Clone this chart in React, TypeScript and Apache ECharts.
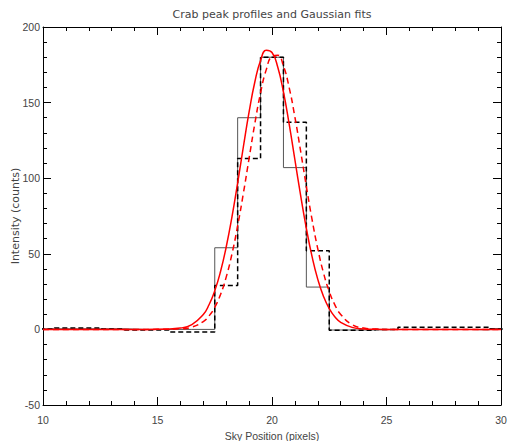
import React, { useEffect, useRef } from "react";
import * as echarts from "echarts";

// Histogram bins (centres, pixels) and counts
const binCenters = [10, 11, 12, 13, 14, 15, 16, 17, 18, 19, 20, 21, 22, 23, 24, 25, 26, 27, 28, 29, 30];
const solidCounts = [0.4, 0.4, 0.4, 0.4, 0, 0, 0, 0, 54, 140, 180, 107, 28, -0.4, -0.4, 0, 0, 0, 0, -0.3, 0.6];
const dashedCounts = [0.2, 1.0, 1.0, 0.2, -0.4, -0.4, -1.7, -1.7, 29, 113, 180, 137, 52, -0.5, -0.5, 0, 1.5, 1.5, 1.5, 1.5, 0.3];

// Gaussian fit curves
const fitX = [10, 14, 15, 16, 16.5, 17, 17.25, 17.5, 17.75, 18, 18.25, 18.5, 18.75, 19, 19.25, 19.5, 19.75, 20, 20.25, 20.5, 20.75, 21, 21.25, 21.5, 21.75, 22, 22.25, 22.5, 22.75, 23, 23.5, 24, 24.5, 25, 26, 30];
const solidFit = [0, 0, 0.05, 0.9, 3.2, 9.9, 16.3, 25.5, 38.1, 54.5, 74.3, 96.9, 120.8, 143.8, 163.6, 177.8, 184.6, 183.1, 173.5, 157.0, 135.8, 112.2, 88.6, 66.8, 48.1, 33.1, 21.8, 13.7, 8.2, 4.7, 1.35, 0.32, 0.05, 0, 0, 0];
const dashedFit = [0, 0, 0.02, 0.4, 1.5, 5.2, 8.9, 14.6, 23.0, 34.6, 49.8, 68.5, 90.0, 113.2, 136.1, 156.4, 171.8, 180.5, 181.3, 174.2, 159.9, 140.4, 117.9, 94.6, 72.6, 53.3, 37.3, 25.1, 16.1, 9.9, 3.2, 0.9, 0.2, 0, 0, 0];

const titleText = "Crab peak profiles and Gaussian fits";
const xName = "Sky Position (pixels)";
const yName = "Intensity (counts)";

function steps(centers: number[], vals: number[]): number[][] {
  const out: number[][] = [];
  centers.forEach((c, i) => {
    out.push([c - 0.5, vals[i]]);
    out.push([c + 0.5, vals[i]]);
  });
  return out;
}

const FONT = "DejaVu Sans";
const LFONT = "Liberation Sans";
const TXT = "#444";

export default function App() {
  const ref = useRef<HTMLDivElement>(null);
  useEffect(() => {
    if (!ref.current) return;
    const chart = echarts.init(ref.current, undefined, { renderer: "svg" });
    const commonX = {
      type: "value" as const,
      min: 10,
      max: 30,
      interval: 5,
      splitLine: { show: false },
      axisLine: { show: true, onZero: false, lineStyle: { color: "#000", width: 1 } },
      axisTick: { show: true, inside: true, length: 8, lineStyle: { color: "#000" } },
      minorTick: { show: true, splitNumber: 5, length: 4, lineStyle: { color: "#000" } },
    };
    const commonY = {
      type: "value" as const,
      min: -50,
      max: 200,
      interval: 50,
      splitLine: { show: false },
      axisLine: { show: true, onZero: false, lineStyle: { color: "#000", width: 1 } },
      axisTick: { show: true, inside: true, length: 8, lineStyle: { color: "#000" } },
      minorTick: { show: true, splitNumber: 5, length: 4, lineStyle: { color: "#000" } },
    };
    chart.setOption({
      animation: false,
      backgroundColor: "#fff",
      graphic: [
        {
          type: "text",
          x: 272,
          y: 14,
          style: {
            text: titleText,
            fontFamily: FONT,
            fontSize: 11,
            fill: TXT,
            textAlign: "center",
            textVerticalAlign: "middle",
          },
        },
      ],
      grid: { left: 43, right: 7, top: 27, bottom: 36, containLabel: false, outerBoundsMode: "none" },
      xAxis: [
        {
          ...commonX,
          position: "bottom",
          name: xName,
          nameLocation: "middle",
          nameGap: 25,
          nameMoveOverlap: false,
          nameTextStyle: { fontFamily: LFONT, fontSize: 10.5, color: TXT },
          axisLabel: { margin: 9, fontFamily: LFONT, fontSize: 10.5, color: TXT },
        },
        { ...commonX, position: "top", axisLabel: { show: false } },
      ],
      yAxis: [
        {
          ...commonY,
          position: "left",
          name: yName,
          nameLocation: "middle",
          nameGap: 22,
          nameMoveOverlap: false,
          nameTextStyle: { fontFamily: FONT, fontSize: 11, color: TXT },
          axisLabel: { margin: 3, fontFamily: LFONT, fontSize: 10.5, color: TXT },
        },
        { ...commonY, position: "right", axisLabel: { show: false } },
      ],
      series: [
        {
          type: "line",
          data: steps(binCenters, solidCounts),
          showSymbol: false,
          symbol: "none",
          lineStyle: { color: "#555", width: 1 },
          clip: true,
        },
        {
          type: "line",
          data: steps(binCenters, dashedCounts),
          showSymbol: false,
          symbol: "none",
          lineStyle: { color: "#000", width: 1.5, type: [5, 3] },
          clip: true,
        },
        {
          type: "line",
          data: fitX.map((x, i) => [x, solidFit[i]]),
          smooth: true,
          showSymbol: false,
          symbol: "none",
          lineStyle: { color: "#ff0000", width: 1.5 },
          clip: true,
        },
        {
          type: "line",
          data: fitX.map((x, i) => [x, dashedFit[i]]),
          smooth: true,
          showSymbol: false,
          symbol: "none",
          lineStyle: { color: "#ff0000", width: 1.5, type: [6, 4] },
          clip: true,
        },
      ],
    });
    return () => chart.dispose();
  }, []);
  return (
    <div
      ref={ref}
      style={{ position: "absolute", left: 0, top: 0, width: 508, height: 441 }}
    />
  );
}
